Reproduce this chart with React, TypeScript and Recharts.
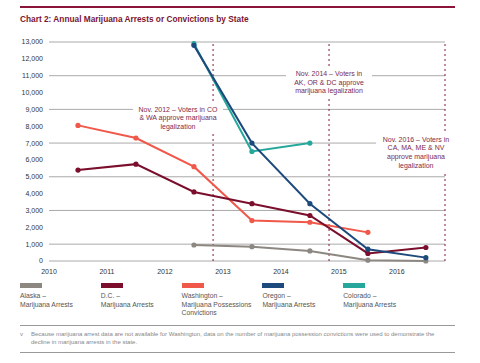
import { LineChart, Line, XAxis, YAxis, CartesianGrid, ReferenceLine } from 'recharts'

const years = [2010.5, 2011.5, 2012.5, 2013.5, 2014.5, 2015.5, 2016.5]
const alaska = [null, null, 950, 850, 600, 50, 0]
const dc = [5400, 5750, 4100, 3400, 2700, 450, 800]
const washington = [8050, 7300, 5600, 2400, 2300, 1700, null]
const oregon = [null, null, 12800, 7000, 3400, 700, 200]
const colorado = [null, null, 12900, 6500, 7000, null, null]

const xTicks = [2010, 2011, 2012, 2013, 2014, 2015, 2016]
const yTicks = [0, 1000, 2000, 3000, 4000, 5000, 6000, 7000, 8000, 9000, 10000, 11000, 12000, 13000]
const markers = [2012.83, 2014.83, 2016.83]

const series = [
    { key: 'alaska', color: '#8d8782', label: ['Alaska –', 'Marijuana Arrests'] },
    { key: 'dc', color: '#7a0e2c', label: ['D.C. –', 'Marijuana Arrests'] },
    { key: 'washington', color: '#f0584a', label: ['Washington –', 'Marijuana Possessions', 'Convictions'] },
    { key: 'oregon', color: '#1d4a7c', label: ['Oregon –', 'Marijuana Arrests'] },
    { key: 'colorado', color: '#25a89b', label: ['Colorado –', 'Marijuana Arrests'] },
]

const data = years.map((y, i) => ({
    year: y,
    alaska: alaska[i],
    dc: dc[i],
    washington: washington[i],
    oregon: oregon[i],
    colorado: colorado[i],
}))

const drawOrder = ['alaska', 'washington', 'colorado', 'dc', 'oregon']

const font = 'Liberation Sans, Arial, sans-serif'
const noteColor = '#7d2a4c'

const Note = ({ left, top, width, height, lines }: { left: number, top: number, width: number, height: number, lines: string[] }) => (
    <div style={{
        position: 'absolute', left, top, width, height, background: '#fff',
        display: 'flex', flexDirection: 'column', justifyContent: 'center', alignItems: 'center',
        fontSize: 7, lineHeight: '8.6px', color: noteColor, textAlign: 'center'
    }}>
        {lines.map((l, i) => <div key={i}>{l}</div>)}
    </div>
)

export default function App() {
    return (
        <div style={{ position: 'absolute', left: 0, top: 0, width: 480, height: 363, background: '#fff', fontFamily: font, overflow: 'hidden' }}>
            <div style={{ position: 'absolute', left: 20, top: 6, width: 435, height: 2, background: '#8a1538' }} />
            <div style={{ position: 'absolute', left: 20, top: 14, fontSize: 8.3, fontWeight: 'bold', color: '#7a1532' }}>
                Chart 2: Annual Marijuana Arrests or Convictions by State
            </div>

            <div style={{ position: 'absolute', left: 0, top: 0 }}>
                <LineChart width={480} height={290} data={data} margin={{ top: 42, right: 35, left: 9, bottom: 0 }}>
                    <CartesianGrid vertical={false} stroke="#aaaaaa" strokeWidth={1} />
                    <XAxis
                        dataKey="year"
                        type="number"
                        domain={[2010, 2016.83]}
                        ticks={xTicks}
                        axisLine={false}
                        tickLine={false}
                        height={29}
                        tickMargin={2}
                        tick={{ fontSize: 7, fill: '#333', fontFamily: font }}
                    />
                    <YAxis
                        domain={[0, 13000]}
                        ticks={yTicks}
                        width={40}
                        axisLine={false}
                        tickLine={false}
                        tickSize={0}
                        tickMargin={6}
                        tickFormatter={(v: number) => v.toLocaleString('en-US')}
                        tick={{ fontSize: 7, fill: '#333', fontFamily: font }}
                    />
                    {markers.map(m => (
                        <ReferenceLine key={m} x={m} stroke="#8a1538" strokeWidth={1} strokeDasharray="2 3" />
                    ))}
                    {drawOrder.map(k => {
                        const s = series.find(x => x.key === k)!
                        return (
                            <Line
                                key={k}
                                type="linear"
                                dataKey={k}
                                stroke={s.color}
                                strokeWidth={2}
                                dot={{ r: 2.6, fill: s.color, stroke: s.color, strokeWidth: 0 }}
                                isAnimationActive={false}
                            />
                        )
                    })}
                </LineChart>
            </div>

            <Note left={133} top={104} width={90} height={29} lines={['Nov. 2012 – Voters in CO', '& WA approve marijuana', 'legalization']} />
            <Note left={286} top={68} width={86} height={30} lines={['Nov. 2014 – Voters in', 'AK, OR & DC approve', 'marijuana legalization']} />
            <Note left={376} top={134} width={80} height={38} lines={['Nov. 2016 – Voters in', 'CA, MA, ME & NV', 'approve marijuana', 'legalization']} />

            {series.map((s, i) => (
                <div key={s.key} style={{ position: 'absolute', left: 20 + i * 80.8, top: 283 }}>
                    <div style={{ width: 22, height: 5, background: s.color }} />
                    <div style={{ marginTop: 4, fontSize: 6.8, lineHeight: '8.7px', color: '#555' }}>
                        {s.label.map((l, j) => <div key={j}>{l}</div>)}
                    </div>
                </div>
            ))}

            <div style={{ position: 'absolute', left: 20, top: 325, width: 435, height: 1, background: '#999' }} />
            <div style={{ position: 'absolute', left: 20, top: 330, fontSize: 6, lineHeight: '8px', color: '#888' }}>v</div>
            <div style={{ position: 'absolute', left: 31, top: 330, width: 424, fontSize: 6, lineHeight: '8px', color: '#888' }}>
                Because marijuana arrest data are not available for Washington, data on the number of marijuana possession convictions were used to demonstrate the<br />
                decline in marijuana arrests in the state.
            </div>
            <div style={{ position: 'absolute', left: 20, top: 352, width: 435, height: 1, background: '#999' }} />
        </div>
    )
}
